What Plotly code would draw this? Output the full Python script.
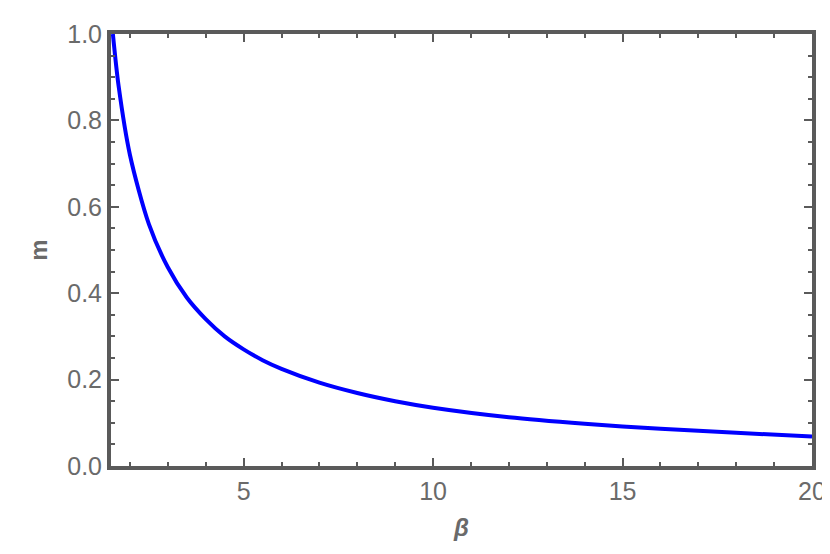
import plotly.graph_objects as go

beta = [1.55, 1.7, 2.0, 2.5, 3.0, 3.5, 4.0, 4.5, 5.0, 5.5, 6.0, 7.0, 8.0, 9.0, 10.0, 12.0, 14.0, 16.0, 18.0, 20.0]
m = [1.0, 0.88, 0.72, 0.56, 0.46, 0.39, 0.34, 0.30, 0.27, 0.245, 0.225, 0.193, 0.169, 0.15, 0.135, 0.113, 0.098, 0.086, 0.077, 0.068]

frame = '#5a5a5a'
tickfont = dict(family='Liberation Sans', size=25, color='#6a6a6a')

fig = go.Figure(go.Scatter(x=beta, y=m, mode='lines',
                           line=dict(color='#0000ff', width=4, shape='spline', smoothing=0.8)))

axis = dict(showgrid=False, zeroline=False, showline=True, linewidth=4, linecolor=frame,
            mirror='ticks', ticks='inside', ticklen=8, tickwidth=2, tickcolor=frame,
            tickfont=tickfont)
fig.update_layout(
    width=830, height=554,
    margin=dict(l=103, r=12, t=18, b=96),
    plot_bgcolor='white', paper_bgcolor='white', showlegend=False,
    xaxis=dict(axis, range=[1.5, 20], tickvals=[5, 10, 15, 20],
               minor=dict(dtick=1, tick0=0, ticks='inside', ticklen=4, tickwidth=2, tickcolor=frame),
               title=dict(text='<b><i>β</i></b>', font=dict(family='Liberation Sans', size=24, color='#6a6a6a'), standoff=16)),
    yaxis=dict(axis, range=[0, 1], tickvals=[0, 0.2, 0.4, 0.6, 0.8, 1.0], ticktext=['0.0', '0.2', '0.4', '0.6', '0.8', '1.0'],
               minor=dict(dtick=0.05, tick0=0, ticks='inside', ticklen=4, tickwidth=2, tickcolor=frame),
               title=dict(text='<b>m</b>', font=dict(family='Liberation Sans', size=24, color='#6a6a6a'), standoff=14)),
)
fig.write_html("out.html")
